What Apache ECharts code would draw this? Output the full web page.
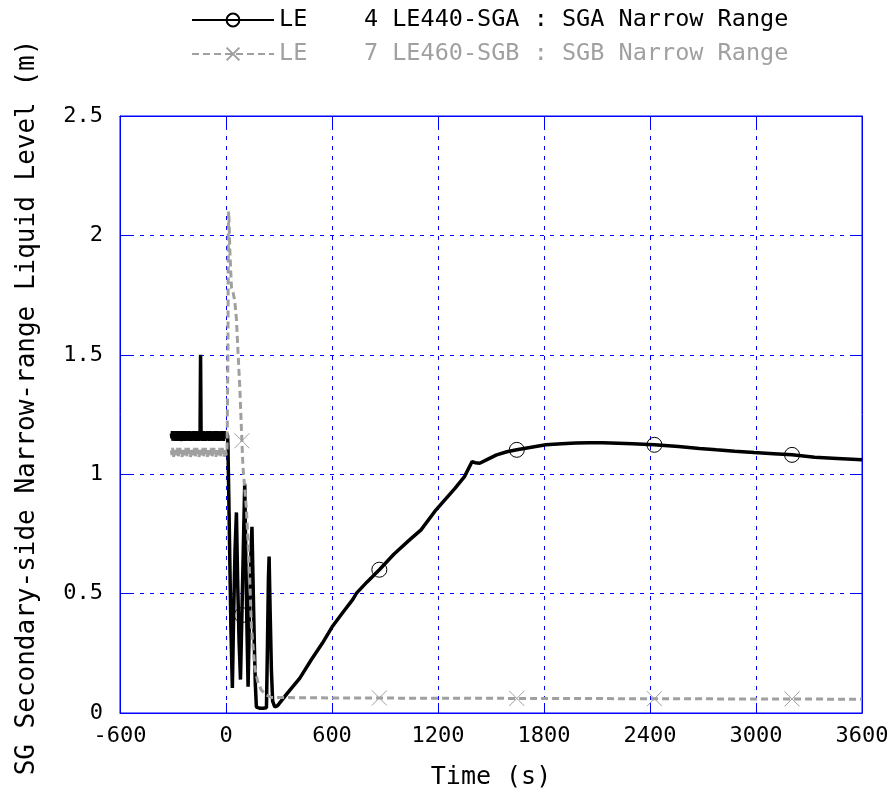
<!DOCTYPE html>
<html>
<head>
<meta charset="utf-8">
<script src="https://cdn.jsdelivr.net/npm/echarts@6/dist/echarts.min.js"></script>
<style>html,body{margin:0;padding:0;background:#fff}#c{width:895px;height:798px}</style>
</head>
<body>
<div id="c"></div>
<script>
// ---- data ----
var xTicks = [-600, 0, 600, 1200, 1800, 2400, 3000, 3600];
var yTicks = [0, 0.5, 1, 1.5, 2, 2.5];
var nameA = 'LE    4 LE440-SGA : SGA Narrow Range';
var nameB = 'LE    7 LE460-SGB : SGB Narrow Range';
var markerTimes = [90, 868, 1646, 2425, 3204];

var timePre = [-309,-306,-303,-300,-297,-294,-291,-288,-285,-282,-279,-276,-273,-270,-267,-264,-261,-258,-255,-252,-249,-246,-243,-240,-237,-234,-231,-228,-225,-222,-219,-216,-213,-210,-207,-204,-201,-198,-195,-192,-189,-186,-183,-180,-177,-174,-171,-168,-165,-162,-159,-156,-153,-150,-147,-144,-141,-138,-135,-132,-129,-126,-123,-120,-117,-114,-111,-108,-105,-102,-99,-96,-93,-90,-87,-84,-81,-78,-75,-72,-69,-66,-63,-60,-57,-54,-51,-48,-45,-42,-39,-36,-33,-30,-27,-24,-21,-18,-15,-12,-9,-6,-3,0,3,6,9];

var preA = [1.17,1.15,1.18,1.14,1.16,1.17,1.15,1.18,1.16,1.14,
  1.17,1.16,1.15,1.18,1.14,1.17,1.15,1.16,1.18,1.15,
  1.14,1.17,1.16,1.15,1.18,1.16,1.14,1.17,1.15,1.18,
  1.16,1.15,1.17,1.14,1.16,1.18,1.15,1.17,1.16,1.14,
  1.17,1.15,1.18,1.16,1.15,1.17,1.14,1.16,1.18,1.15,
  1.17,1.16,1.14,1.17,1.15,1.50,1.16,1.15,1.17,1.14,
  1.16,1.18,1.15,1.17,1.16,1.14,1.17,1.15,1.18,1.16,
  1.15,1.17,1.14,1.16,1.18,1.15,1.17,1.16,1.14,1.17,
  1.15,1.18,1.16,1.15,1.17,1.14,1.16,1.18,1.15,1.17,
  1.16,1.14,1.17,1.15,1.18,1.16,1.15,1.17,1.14,1.16,
  1.18,1.15,1.17,1.16,1.15,1.17,1.16];
var preB = [1.10,1.08,1.11,1.09,1.07,1.10,1.11,1.08,1.09,1.10,
  1.08,1.11,1.09,1.07,1.10,1.09,1.11,1.08,1.10,1.09,
  1.07,1.10,1.11,1.08,1.09,1.10,1.08,1.11,1.09,1.07,
  1.10,1.09,1.11,1.08,1.10,1.09,1.07,1.10,1.11,1.08,
  1.09,1.10,1.08,1.11,1.09,1.07,1.10,1.09,1.11,1.08,
  1.10,1.09,1.07,1.10,1.11,1.08,1.09,1.10,1.08,1.11,
  1.09,1.07,1.10,1.09,1.11,1.08,1.10,1.09,1.07,1.10,
  1.11,1.08,1.09,1.10,1.08,1.11,1.09,1.07,1.10,1.09,
  1.11,1.08,1.10,1.09,1.07,1.10,1.11,1.08,1.09,1.10,
  1.08,1.11,1.09,1.07,1.10,1.09,1.11,1.08,1.10,1.09,
  1.07,1.10,1.11,1.08,1.09,1.10,1.10];

var timeA = [11,16,22,28,36,43,51,59,66,74,82,90,98,106,112,118,125,132,140,147,154,160,166,172,190,210,229,235,240,244,250,257,264,276,292,350,418,480,546,600,660,717,739,800,868,950,1039,1104,1189,1296,1350,1393,1410,1436,1480,1532,1590,1646,1720,1811,1900,1980,2060,2132,2220,2300,2425,2561,2680,2775,2880,2989,3100,3204,3332,3460,3600];
var levelA = [1.12,0.90,0.62,0.35,0.105,0.40,0.68,0.84,0.55,0.30,0.14,0.41,0.69,0.96,0.66,0.38,0.11,0.38,0.65,0.78,0.52,0.30,0.12,0.025,0.02,0.02,0.022,0.30,0.56,0.655,0.42,0.18,0.05,0.025,0.031,0.085,0.146,0.22,0.293,0.36,0.42,0.475,0.502,0.55,0.600,0.665,0.725,0.767,0.851,0.941,0.99,1.053,1.048,1.046,1.062,1.081,1.094,1.102,1.112,1.123,1.128,1.131,1.132,1.132,1.130,1.128,1.123,1.116,1.108,1.102,1.096,1.091,1.086,1.081,1.071,1.066,1.060];

var timeB = [11,13,15,18,21,31,40,49,59,68,78,90,96,116,134,144,163,180,200,230,257,300,400,500,600,700,800,868,1000,1200,1400,1646,1800,2000,2200,2425,2600,2800,3000,3204,3400,3600];
var levelB = [1.5,2.00,2.10,2.05,1.95,1.78,1.76,1.73,1.65,1.51,1.365,1.14,1.03,0.85,0.57,0.36,0.19,0.13,0.096,0.075,0.065,0.065,0.064,0.064,0.063,0.063,0.063,0.063,0.062,0.062,0.062,0.061,0.061,0.061,0.060,0.060,0.060,0.059,0.059,0.059,0.058,0.058];

function pairs(t, v) { var out = []; for (var i = 0; i < t.length; i++) out.push([t[i], v[i]]); return out; }
function markSize(size) { return function (val) { return markerTimes.indexOf(val[0]) >= 0 ? size : 0; }; }

var FONT = "'DejaVu Sans Mono', monospace";
var BLUE = '#0000ff';
var chart = echarts.init(document.getElementById('c'), null, {renderer: 'canvas'});
function plain(v) { return String(v); }
chart.setOption({
  animation: false,
  backgroundColor: '#fff',
  grid: {left: 120, right: 33, top: 116, bottom: 85, show: true, borderColor: BLUE, borderWidth: 1},
  legend: {
    orient: 'vertical', left: 186, top: 3, itemWidth: 82, itemHeight: 16, itemGap: 10,
    textStyle: {fontFamily: FONT, fontSize: 23.5},
    data: [
      {name: nameA, textStyle: {color: '#000'}},
      {name: nameB, textStyle: {color: '#a0a0a0'}}
    ]
  },
  xAxis: [{
    type: 'value', min: -600, max: 3600, interval: 600, position: 'bottom',
    name: 'Time (s)', nameLocation: 'middle', nameGap: 52,
    nameTextStyle: {fontFamily: FONT, fontSize: 25, color: '#000'},
    axisLine: {show: true, onZero: false, lineStyle: {color: BLUE, width: 1}},
    axisTick: {show: true, inside: true, length: 10, lineStyle: {color: BLUE}},
    axisLabel: {fontFamily: FONT, fontSize: 22, color: '#000', margin: 12, formatter: plain},
    splitLine: {show: true, lineStyle: {color: BLUE, type: [4, 6], width: 1}}
  }, {
    type: 'value', min: -600, max: 3600, interval: 600, position: 'top',
    axisLine: {show: true, onZero: false, lineStyle: {color: BLUE, width: 1}},
    axisTick: {show: true, inside: true, length: 10, lineStyle: {color: BLUE}},
    axisLabel: {show: false}, splitLine: {show: false}
  }],
  yAxis: [{
    type: 'value', min: 0, max: 2.5, interval: 0.5, position: 'left',
    name: 'SG Secondary-side Narrow-range Liquid Level (m)', nameLocation: 'middle', nameGap: 80,
    nameTextStyle: {fontFamily: FONT, fontSize: 26, color: '#000', padding: [0, 0, 0, 14]},
    axisLine: {show: true, onZero: false, lineStyle: {color: BLUE, width: 1}},
    axisTick: {show: true, inside: true, length: 10, lineStyle: {color: BLUE}},
    axisLabel: {fontFamily: FONT, fontSize: 22, color: '#000', margin: 17, formatter: plain},
    splitLine: {show: true, lineStyle: {color: BLUE, type: [4, 6], width: 1}}
  }, {
    type: 'value', min: 0, max: 2.5, interval: 0.5, position: 'right',
    axisLine: {show: true, onZero: false, lineStyle: {color: BLUE, width: 1}},
    axisTick: {show: true, inside: true, length: 10, lineStyle: {color: BLUE}},
    axisLabel: {show: false}, splitLine: {show: false}
  }],
  series: [{
    name: nameA, type: 'line', data: pairs(timePre, preA).concat(pairs(timeA, levelA)),
    showSymbol: true, showAllSymbol: true, symbol: 'circle', symbolSize: markSize(15),
    itemStyle: {color: 'rgba(0,0,0,0)', borderColor: '#000', borderWidth: 1},
    lineStyle: {color: '#000', width: 3.5},
    emphasis: {disabled: true}, z: 2
  }, {
    name: nameB, type: 'line', data: pairs(timePre, preB).concat(pairs(timeB, levelB)),
    showSymbol: true, showAllSymbol: true, symbol: 'path://M0,0L10,10M10,0L0,10', symbolSize: markSize(15),
    itemStyle: {color: 'rgba(0,0,0,0)', borderColor: '#a0a0a0', borderWidth: 1},
    lineStyle: {color: '#a0a0a0', width: 3, type: [7, 4]},
    emphasis: {disabled: true}, z: 3
  }]
});
</script>
</body>
</html>
